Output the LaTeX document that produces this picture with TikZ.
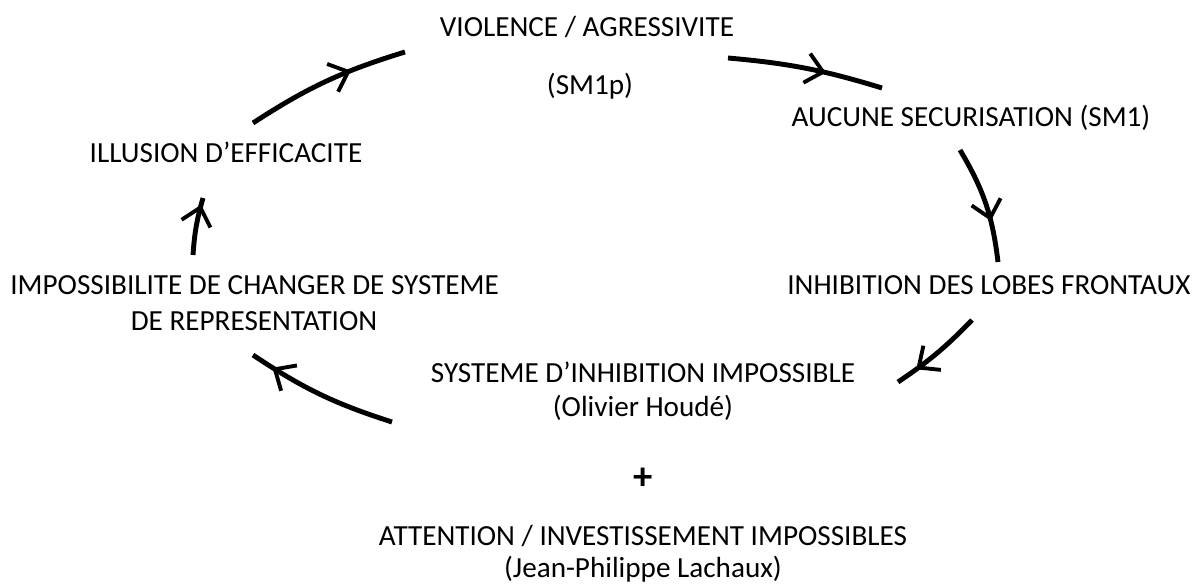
\documentclass[tikz,border=0pt]{standalone}
\usepackage{fontspec}
\setmainfont{Carlito}
\usetikzlibrary{arrows.meta,decorations.markings}

\begin{document}
\begin{tikzpicture}[x=0.02cm, y=-0.02cm,
  lbl/.style={anchor=base, inner sep=0pt, font=\fontsize{16.6pt}{19pt}\selectfont},
  cyc/.style={line width=2.8pt},
  mid/.style={postaction={decorate}, decoration={markings,
      mark=at position #1 with {\arrow{Straight Barb[length=9.5pt, width=17pt, line width=2.2pt]}}}}]

  \useasboundingbox (0,0) rectangle (1198,587);

  % texts of the cycle (placed on their baselines)
  \node[lbl] (viol)   at (587,37)  {VIOLENCE / AGRESSIVITE};
  \node[lbl] (sm1p)   at (590,95)  {(SM1p)};
  \node[lbl] (secu)   at (971,127) {AUCUNE SECURISATION (SM1)};
  \node[lbl, anchor=base west] (inhib) at (787,295) {INHIBITION DES LOBES FRONTAUX};
  \node[lbl] (syst)   at (643,383) {SYSTEME D’INHIBITION IMPOSSIBLE};
  \node[lbl] (houde)  at (643,417) {(Olivier Houdé)};
  \node[lbl, anchor=base west] (imp1) at (10,295) {IMPOSSIBILITE DE CHANGER DE SYSTEME};
  \node[lbl] (imp2)   at (254,331) {DE REPRESENTATION};
  \node[lbl] (illu)   at (226,163) {ILLUSION D’EFFICACITE};

  \node[lbl, font=\fontsize{22pt}{24pt}\selectfont\bfseries] (plus) at (643,490) {+};
  \node[lbl] (atten)  at (643,546) {ATTENTION / INVESTISSEMENT IMPOSSIBLES};
  \node[lbl] (lach)   at (643,578) {(Jean-Philippe Lachaux)};

  % arc ends
  \coordinate (a1) at (253,123); \coordinate (b1) at (405,52);
  \coordinate (a2) at (728,58);  \coordinate (b2) at (882,88);
  \coordinate (a3) at (960,150); \coordinate (b3) at (998,262);
  \coordinate (a4) at (972,320); \coordinate (b4) at (898,382);
  \coordinate (a5) at (392,422); \coordinate (b5) at (253,355);
  \coordinate (a6) at (193,255); \coordinate (b6) at (203,198);

  \draw[cyc, mid=0.66] (a1) to[bend left=8]  (b1);
  \draw[cyc, mid=0.63] (a2) to[bend left=6]  (b2);
  \draw[cyc, mid=0.65] (a3) to[bend left=12] (b3);
  \draw[cyc, mid=0.77] (a4) to[bend left=6]  (b4);
  \draw[cyc, mid=0.85] (a5) to[bend left=8]  (b5);
  \draw[cyc, mid=0.88] (a6) to[bend left=6]  (b6);
\end{tikzpicture}
\end{document}
